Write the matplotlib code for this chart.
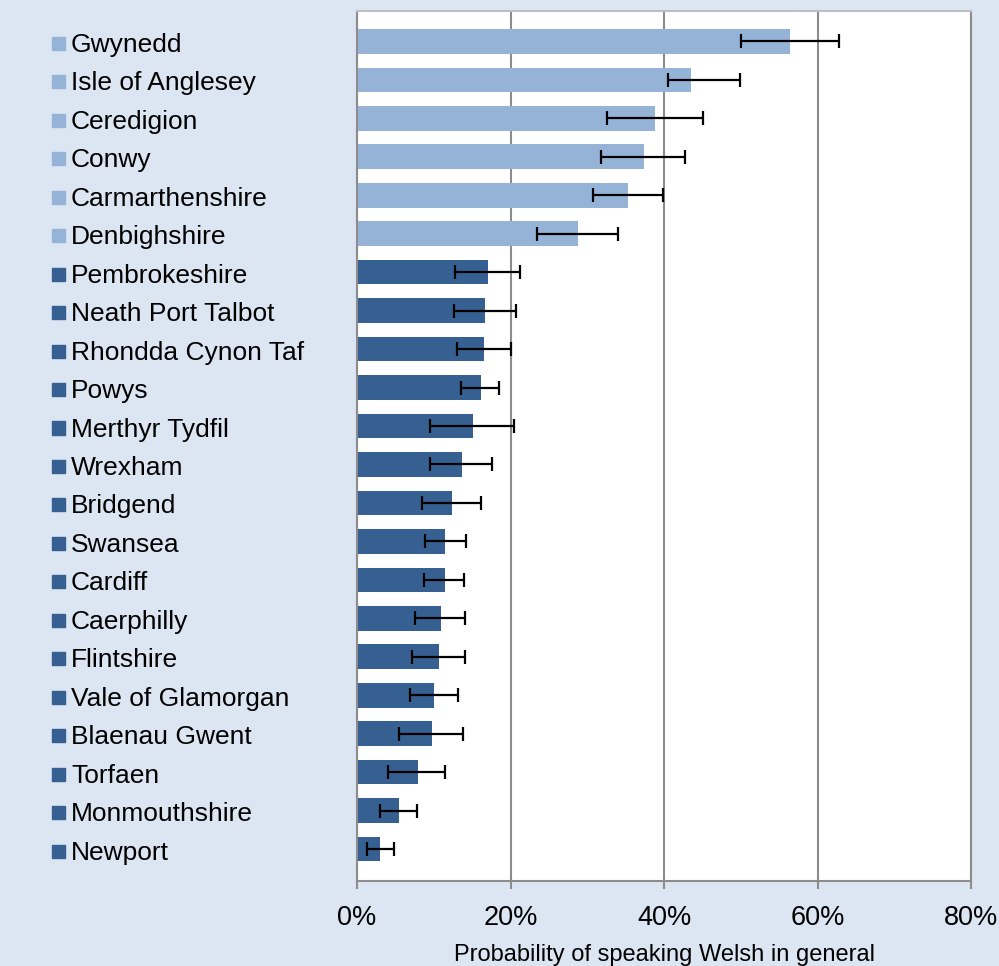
import matplotlib.pyplot as plt
from matplotlib.transforms import blended_transform_factory, ScaledTranslation

plt.rcParams['font.family'] = ['Liberation Sans', 'DejaVu Sans']

# data (percent)
areas = ["Gwynedd", "Isle of Anglesey", "Ceredigion", "Conwy", "Carmarthenshire",
         "Denbighshire", "Pembrokeshire", "Neath Port Talbot", "Rhondda Cynon Taf",
         "Powys", "Merthyr Tydfil", "Wrexham", "Bridgend", "Swansea", "Cardiff",
         "Caerphilly", "Flintshire", "Vale of Glamorgan", "Blaenau Gwent", "Torfaen",
         "Monmouthshire", "Newport"]
prob = [56.4, 43.5, 38.8, 37.4, 35.3, 28.8, 17.1, 16.7, 16.5, 16.2, 15.1,
        13.7, 12.4, 11.5, 11.5, 10.9, 10.7, 10.0, 9.8, 7.9, 5.5, 3.0]
low = [50.0, 40.5, 32.6, 31.8, 30.7, 23.5, 12.8, 12.6, 13.0, 13.6, 9.5,
       9.5, 8.5, 8.9, 8.7, 7.6, 7.2, 6.9, 5.5, 4.0, 3.0, 1.3]
high = [62.8, 49.9, 45.1, 42.7, 39.9, 34.0, 21.2, 20.7, 20.1, 18.5, 20.5,
        17.6, 16.2, 14.2, 13.9, 14.1, 14.1, 13.2, 13.8, 11.5, 7.8, 4.8]
n_welsh_speaking = 6  # first six are the heartland areas

light = "#95B3D7"
dark = "#376092"
colors = [light if i < n_welsh_speaking else dark for i in range(len(areas))]

fig = plt.figure(figsize=(9.99, 9.66), dpi=100)
fig.patch.set_facecolor("#DCE6F2")
ax = fig.add_axes([0.3574, 0.088, 0.6146, 0.9006])
ax.set_facecolor("white")

y = list(range(len(areas)))
err = [[p - l for p, l in zip(prob, low)], [h - p for p, h in zip(prob, high)]]
ax.barh(y, prob, height=0.64, color=colors, zorder=2)
ax.errorbar(prob, y, xerr=err, fmt="none", ecolor="black", elinewidth=1.6,
            capsize=5, capthick=1.6, zorder=3)

ax.set_xlim(0, 80)
ax.set_ylim(21.83, -0.79)
ax.set_xticks([0, 20, 40, 60, 80])
ax.set_xticklabels(["0%", "20%", "40%", "60%", "80%"], fontsize=19.5)
ax.set_yticks([])
ax.tick_params(axis="x", length=6, width=1.5, color="#8C8C8C", pad=11)
ax.grid(axis="x", color="#8C8C8C", linewidth=1.5, zorder=0)
for s in ax.spines.values():
    s.set_color("#8C8C8C")
    s.set_linewidth(1.5)
ax.spines["top"].set_color("#BFBFBF")

ax.set_xlabel("Probability of speaking Welsh in general", fontsize=17, labelpad=10)

# legend-style category labels on the left
tr = blended_transform_factory(ax.transAxes, ax.transData)
sq_tr = tr + ScaledTranslation(0, -2 / 100, fig.dpi_scale_trans)
txt_tr = tr + ScaledTranslation(0, -10.5 / 100, fig.dpi_scale_trans)
ax.scatter([-0.4865] * len(areas), y, marker="s", s=88, c=colors,
           transform=sq_tr, clip_on=False)
for yi, name in zip(y, areas):
    ax.text(-0.466, yi, name, transform=txt_tr, fontsize=19, va="baseline", ha="left")

plt.savefig("out.png", dpi=100, facecolor=fig.get_facecolor())
